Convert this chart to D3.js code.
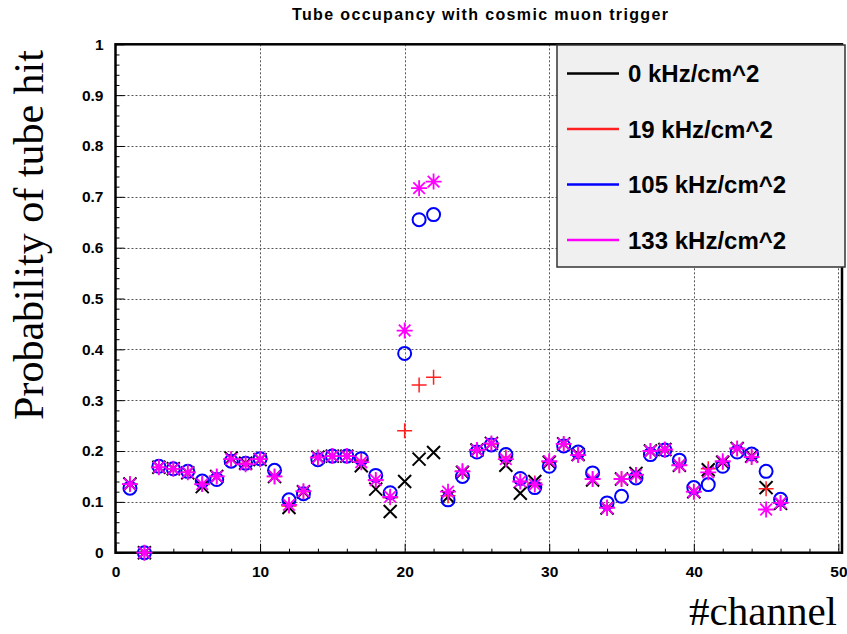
<!DOCTYPE html>
<html><head><meta charset="utf-8">
<script src="https://cdn.jsdelivr.net/npm/d3@7"></script>
<style>body{margin:0;background:#fff;} svg{display:block;}</style>
</head><body>
<svg id="chart" width="847" height="634"></svg>
<script>
const channels = d3.range(1, 47);
const seriesLabels = ["0 kHz/cm^2", "19 kHz/cm^2", "105 kHz/cm^2", "133 kHz/cm^2"];
const rate0 = [0.135,0.0,0.168,0.165,0.157,0.130,0.150,0.186,0.176,0.183,0.150,0.089,0.120,0.188,0.190,0.190,0.171,0.125,0.081,0.140,0.184,0.197,0.110,0.158,0.202,0.215,0.172,0.117,0.140,0.178,0.214,0.193,0.143,0.088,0.145,0.156,0.200,0.203,0.172,0.120,0.163,0.178,0.205,0.190,0.128,0.097];
const rate19 = [0.135,0.0,0.168,0.165,0.158,0.134,0.150,0.184,0.176,0.184,0.150,0.092,0.120,0.188,0.190,0.190,0.182,0.142,0.108,0.240,0.330,0.345,0.112,0.160,0.202,0.214,0.188,0.140,0.137,0.178,0.214,0.192,0.145,0.090,0.145,0.154,0.200,0.202,0.172,0.120,0.165,0.178,0.205,0.188,0.126,0.098];
const rate105 = [0.127,0.0,0.170,0.165,0.160,0.141,0.144,0.180,0.176,0.185,0.162,0.104,0.116,0.183,0.190,0.190,0.185,0.152,0.118,0.392,0.655,0.665,0.104,0.150,0.198,0.212,0.193,0.146,0.128,0.170,0.210,0.198,0.157,0.098,0.111,0.147,0.193,0.202,0.182,0.128,0.134,0.170,0.198,0.194,0.160,0.105];
const rate133 = [0.135,0.0,0.168,0.165,0.158,0.135,0.150,0.184,0.174,0.184,0.150,0.094,0.121,0.187,0.190,0.190,0.178,0.143,0.110,0.437,0.717,0.730,0.120,0.160,0.202,0.215,0.184,0.140,0.134,0.180,0.214,0.192,0.145,0.088,0.145,0.153,0.200,0.203,0.172,0.120,0.158,0.180,0.205,0.188,0.085,0.098];
const xTicks = [0,10,20,30,40,50];
const yTicks = [0,0.1,0.2,0.3,0.4,0.5,0.6,0.7,0.8,0.9,1];

const series = [
  {label: seriesLabels[0], values: rate0, color: "#000000", marker: "x"},
  {label: seriesLabels[1], values: rate19, color: "#ff2020", marker: "plus"},
  {label: seriesLabels[2], values: rate105, color: "#0000ff", marker: "circle"},
  {label: seriesLabels[3], values: rate133, color: "#ff00ff", marker: "star"}
];

const svg = d3.select("#chart");
const L = 115.5, R = 842, T = 44.3, B = 552.7;
const x = d3.scaleLinear().domain([0, 50.25]).range([L, R]);
const y = d3.scaleLinear().domain([0, 1]).range([B, T]);

// grid
const grid = svg.append("g").attr("stroke", "#555").attr("stroke-width", 1).attr("stroke-dasharray", "2,2");
grid.selectAll("line.gx").data(xTicks.filter(d => d > 0)).enter().append("line")
  .attr("x1", d => Math.round(x(d)) + 0.5).attr("x2", d => Math.round(x(d)) + 0.5)
  .attr("y1", T).attr("y2", B);
grid.selectAll("line.gy").data(yTicks.filter(d => d > 0 && d < 1)).enter().append("line")
  .attr("y1", d => Math.round(y(d)) + 0.5).attr("y2", d => Math.round(y(d)) + 0.5)
  .attr("x1", L).attr("x2", R);

// axes with inside ticks
const xMajor = d3.axisBottom(x).tickValues(xTicks).tickSize(-9).tickPadding(13).tickFormat(d3.format("d"));
const xMinor = d3.axisBottom(x).tickValues(d3.range(0, 51, 2).filter(d => d % 10)).tickSize(-4).tickFormat("");
const yMajor = d3.axisLeft(y).tickValues(yTicks).tickSize(-9).tickPadding(12).tickFormat(d => d === 0 ? "0" : d === 1 ? "1" : d3.format(".1f")(d));
const yMinor = d3.axisLeft(y).tickValues(d3.range(0, 1.001, 0.02).filter(d => Math.abs(d * 10 - Math.round(d * 10)) > 0.01)).tickSize(-4).tickFormat("");

function styleAxis(g) {
  g.select(".domain").remove();
  g.selectAll(".tick line").attr("stroke", "#000").attr("stroke-width", 1);
  g.selectAll(".tick text").attr("font-family", "'Liberation Sans', Arial, sans-serif").attr("font-weight", "bold").attr("font-size", 15.5).attr("fill", "#000");
}
svg.append("g").attr("transform", `translate(0,${B})`).call(xMajor).call(styleAxis);
svg.append("g").attr("transform", `translate(0,${B})`).call(xMinor).call(styleAxis);
svg.append("g").attr("transform", `translate(${L},0)`).call(yMajor).call(styleAxis);
svg.append("g").attr("transform", `translate(${L},0)`).call(yMinor).call(styleAxis);

// frame
svg.append("rect").attr("x", L).attr("y", T).attr("width", R - L).attr("height", B - T)
  .attr("fill", "none").attr("stroke", "#000").attr("stroke-width", 2.5);

// markers
function drawMarker(g, type, color) {
  const s = 6.5;
  if (type === "x") {
    g.append("path").attr("d", `M${-s},${-s}L${s},${s}M${-s},${s}L${s},${-s}`).attr("stroke", color).attr("stroke-width", 2).attr("fill", "none");
  } else if (type === "plus") {
    const p = 7.5;
    g.append("path").attr("d", `M${-p},0L${p},0M0,${-p}L0,${p}`).attr("stroke", color).attr("stroke-width", 1.5).attr("fill", "none");
  } else if (type === "circle") {
    g.append("circle").attr("r", 6.5).attr("stroke", color).attr("stroke-width", 2).attr("fill", "none");
  } else {
    const p = 8, q = 5.8;
    g.append("path").attr("d", `M${-p},0L${p},0M0,${-p}L0,${p}M${-q},${-q}L${q},${q}M${-q},${q}L${q},${-q}`).attr("stroke", color).attr("stroke-width", 1.8).attr("fill", "none");
  }
}
series.forEach(s => {
  const g = svg.append("g");
  g.selectAll("g").data(channels.map((c, i) => [c, s.values[i]])).enter().append("g")
    .attr("transform", d => `translate(${x(d[0])},${y(d[1])})`)
    .each(function() { drawMarker(d3.select(this), s.marker, s.color); });
});

// legend
const leg = svg.append("g");
leg.append("rect").attr("x", 557).attr("y", 45).attr("width", 288).attr("height", 222)
  .attr("fill", "#f0f0f0").attr("stroke", "#333").attr("stroke-width", 1.5);
const legY = d3.scalePoint().domain(seriesLabels).range([73.5, 240]);
series.forEach(s => {
  leg.append("line").attr("x1", 567).attr("x2", 619).attr("y1", legY(s.label)).attr("y2", legY(s.label))
    .attr("stroke", s.color).attr("stroke-width", 2.5);
  leg.append("text").attr("x", 628).attr("y", legY(s.label)).attr("dy", "0.36em")
    .attr("font-family", "'Liberation Sans', Arial, sans-serif").attr("font-weight", "bold").attr("font-size", 24)
    .attr("fill", "#000").text(s.label);
});

// title and axis labels
svg.append("text").attr("x", 480).attr("y", 20).attr("text-anchor", "middle")
  .attr("font-family", "'Liberation Sans', Arial, sans-serif").attr("font-weight", "bold").attr("font-size", 16)
  .attr("textLength", 376).attr("lengthAdjust", "spacing")
  .text("Tube occupancy with cosmic muon trigger");
svg.append("text").attr("transform", "translate(43,235) rotate(-90)").attr("text-anchor", "middle")
  .attr("font-family", "'Liberation Serif', 'Times New Roman', serif").attr("font-size", 42)
  .text("Probability of tube hit");
svg.append("text").attr("x", 837).attr("y", 625).attr("text-anchor", "end")
  .attr("font-family", "'Liberation Serif', 'Times New Roman', serif").attr("font-size", 41)
  .text("#channel");
</script>
</body></html>
